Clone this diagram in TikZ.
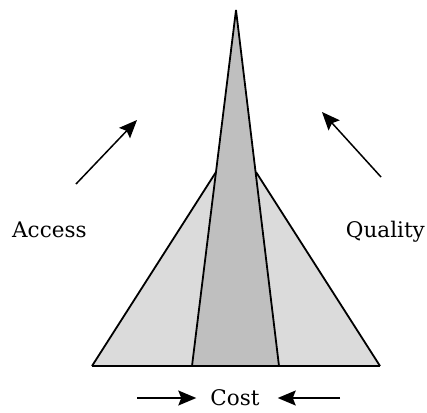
\documentclass[tikz,border=0pt]{standalone}
\usepackage{fontspec}
\setmainfont{DejaVu Serif}
\usetikzlibrary{arrows.meta}
\definecolor{pyrlight}{gray}{0.86}
\definecolor{pyrdark}{gray}{0.75}

\begin{document}
\begin{tikzpicture}[
      x=1pt, y=-1pt,
      every node/.style={font=\fontsize{21.5}{24}\selectfont, inner sep=0pt},
      edge/.style={line width=1.8pt, line join=miter},
      push/.style={line width=1.5pt, -{Stealth[length=18pt, width=15pt, inset=3pt]}},
    ]
    \useasboundingbox (0,0) rectangle (427,412);

    % pyramid corners
    \coordinate (top) at (236,10);
    \coordinate (bl) at (92,366);
    \coordinate (br) at (380,366);
    \coordinate (il) at (192,366);
    \coordinate (ir) at (279,366);
    \coordinate (ml) at (216,172);
    \coordinate (mr) at (256,172);

    % fills
    \fill[pyrlight] (bl) -- (ml) -- (mr) -- (br) -- cycle;
    \fill[pyrdark] (top) -- (ir) -- (il) -- cycle;

    % outlines
    \draw[edge] (bl) -- (ml);
    \draw[edge] (br) -- (mr);
    \draw[edge] (top) -- (il);
    \draw[edge] (top) -- (ir);
    \draw[edge] (bl) -- (br);

    % labels
    \node[anchor=base west] (access) at (12,237) {Access};
    \node[anchor=base east] (quality) at (425,237) {Quality};
    \node[anchor=base] (cost) at (235,405) {Cost};

    % arrows
    \coordinate (accfrom) at (76,184);
    \coordinate (accto) at (137,120);
    \coordinate (qualfrom) at (381,177);
    \coordinate (qualto) at (322,112);
    \coordinate (costl) at (137,398);
    \coordinate (costr) at (340,398);
    \draw[push] (accfrom) -- (accto);
    \draw[push] (qualfrom) -- (qualto);
    \draw[push] (costl) -- ([xshift=-14pt]cost.west |- costl);
    \draw[push] (costr) -- ([xshift=18pt]cost.east |- costr);
  \end{tikzpicture}
\end{document}
